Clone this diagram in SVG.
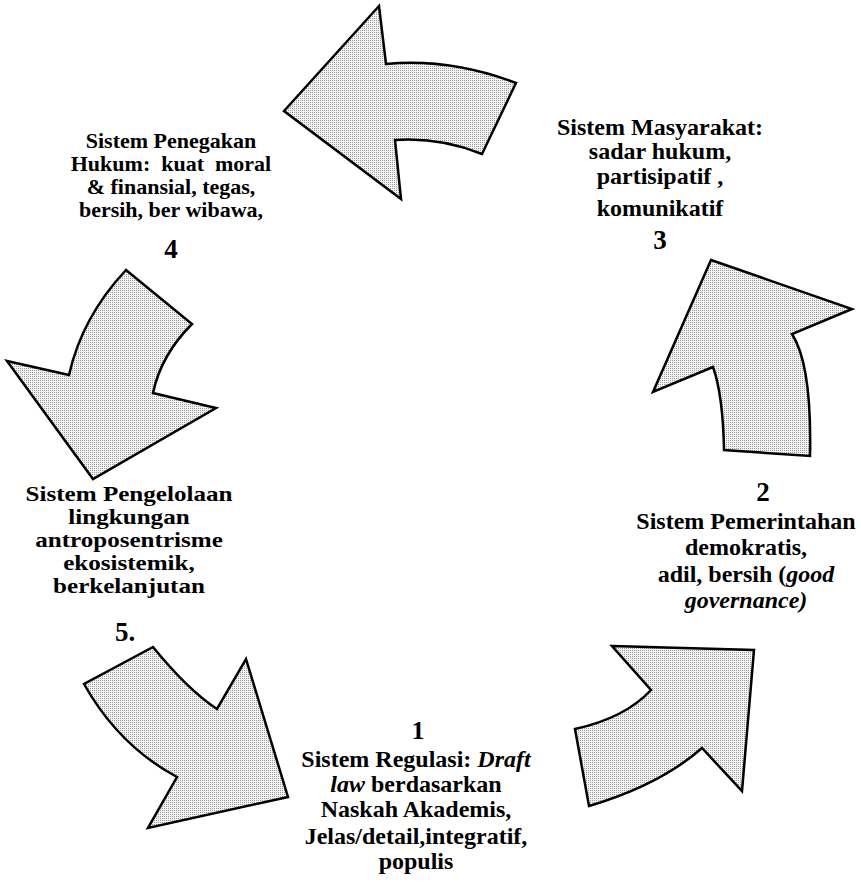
<svg xmlns="http://www.w3.org/2000/svg" width="861" height="886" viewBox="0 0 861 886">
<style>
  .arrow { fill: url(#dots); stroke: #000; stroke-width: 2.5; stroke-linejoin: miter; }
  .t { font-family: "Liberation Serif", "Times New Roman", serif; font-weight: bold; font-size: 24px; fill: #000; text-anchor: middle; white-space: pre; }
  .s { font-size: 22px; }
  .num { font-size: 27px; }
  .n1 { font-size: 26px; }
  .i { font-style: italic; }
</style>
<defs>
  <pattern id="dots" width="2" height="2" patternUnits="userSpaceOnUse">
    <rect width="2" height="2" fill="#f4f4f4"/>
    <rect width="1" height="1" fill="#9a9a9a"/>
  </pattern>
</defs>
<rect width="861" height="886" fill="#fff"/>
<g id="connectors">
  <path id="arrow-3-4" class="arrow" d="M 284,111 L 379,6 L 386,64 Q 450,58 516,83 L 482,154 Q 440,137 395,140 L 401,199 Z"/>
  <path id="arrow-2-3" class="arrow" d="M 711,260 L 852,309 L 792,334 Q 812,365 810,456 L 724,450 Q 723,395 713,367 L 653,392 Z"/>
  <path id="arrow-1-2" class="arrow" d="M 612,646 L 754,650 L 742,791 L 702,748 Q 660,785 589,806 L 575,729 Q 625,718 651,690 Z"/>
  <path id="arrow-5-1" class="arrow" d="M 153,647 Q 188,690 217,709 L 246,659 L 288,797 L 148,828 L 177,777 Q 119,746 84,684 Z"/>
  <path id="arrow-4-5" class="arrow" d="M 126,270 L 192,324 Q 161,355 153,393 L 216,408 L 93,479 L 7,361 L 69,375 Q 82,317 126,270 Z"/>
</g>
<g id="node-4">
  <text class="t s" x="171" y="148">Sistem Penegakan</text>
  <text class="t s" x="171" y="171">Hukum:  kuat  moral</text>
  <text class="t s" x="171" y="194">&amp; finansial, tegas,</text>
  <text class="t s" x="171" y="217">bersih, ber wibawa,</text>
  <text class="t num" x="171" y="258">4</text>
</g>
<g id="node-3">
  <text class="t" x="660" y="135">Sistem Masyarakat:</text>
  <text class="t" x="660" y="159">sadar hukum,</text>
  <text class="t" x="660" y="184">partisipatif ,</text>
  <text class="t" x="660" y="216">komunikatif</text>
  <text class="t num" x="660" y="249">3</text>
</g>
<g id="node-2">
  <text class="t num" x="763" y="501">2</text>
  <text class="t" x="746" y="529">Sistem Pemerintahan</text>
  <text class="t" x="746" y="555">demokratis,</text>
  <text class="t" x="746" y="582">adil, bersih (<tspan class="i">good</tspan></text>
  <text class="t i" x="746" y="608">governance)</text>
</g>
<g id="node-5">
  <g transform="translate(129,0) scale(1.14,1) translate(-129,0)">
    <text class="t s" x="129" y="501">Sistem Pengelolaan</text>
    <text class="t s" x="129" y="524">lingkungan</text>
    <text class="t s" x="129" y="547">antroposentrisme</text>
    <text class="t s" x="129" y="570">ekosistemik,</text>
    <text class="t s" x="129" y="593">berkelanjutan</text>
  </g>
  <text class="t num" x="125" y="641">5.</text>
</g>
<g id="node-1">
  <text class="t n1" x="418" y="739">1</text>
  <text class="t" x="416" y="767">Sistem Regulasi: <tspan class="i">Draft</tspan></text>
  <text class="t" x="416" y="792"><tspan class="i">law</tspan> berdasarkan</text>
  <text class="t" x="416" y="817">Naskah Akademis,</text>
  <text class="t" x="416" y="844">Jelas/detail,integratif,</text>
  <text class="t" x="416" y="869">populis</text>
</g>
</svg>
